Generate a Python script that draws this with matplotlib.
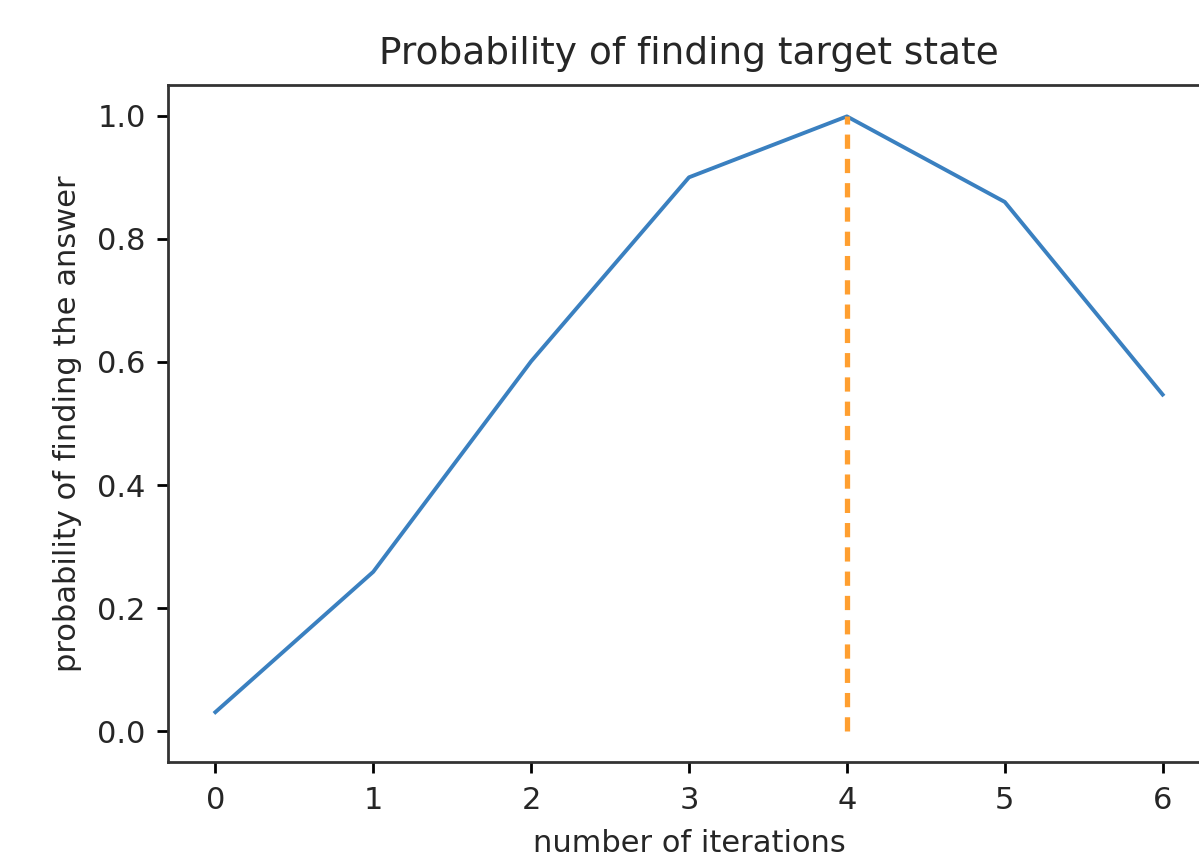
import numpy as np
import matplotlib
matplotlib.use("Agg")
import matplotlib.pyplot as plt

iterations = [0, 1, 2, 3, 4, 5, 6]
probabilities = [0.031, 0.259, 0.601, 0.900, 0.999, 0.860, 0.547]
best_iteration = 4


def plotProbability(filename="out.png"):
    fig = plt.figure(figsize=(11.99, 8.6), dpi=100)
    ax = fig.add_axes([168 / 1199, 98 / 860, (1210 - 168) / 1199, (762 - 85) / 860])

    ax.plot(iterations, probabilities, color="#3a80c0", linewidth=2.8)
    ax.plot([best_iteration, best_iteration], [0, 1], linestyle="--",
            color="#ff9f30", linewidth=3.8, dashes=(2.7, 1.9))

    ax.set_xlim(-0.3, 6.3)
    ax.set_ylim(-0.05, 1.05)
    ax.set_xticks(iterations)
    ax.set_yticks([0.0, 0.2, 0.4, 0.6, 0.8, 1.0])

    ax.set_title("Probability of finding target state", fontsize=27, pad=15,
                 color="#262626")
    ax.set_xlabel("number of iterations", fontsize=22, labelpad=10, color="#262626")
    ax.set_ylabel("probability of finding the answer", fontsize=22, labelpad=11,
                  color="#262626")
    ax.tick_params(labelsize=22, width=2, length=8, pad=9, labelcolor="#262626")
    ax.tick_params(axis="y", pad=8)
    for spine in ax.spines.values():
        spine.set_linewidth(2)
        spine.set_color("#333333")

    fig.savefig(filename, dpi=100)


if __name__ == "__main__":
    plotProbability()
